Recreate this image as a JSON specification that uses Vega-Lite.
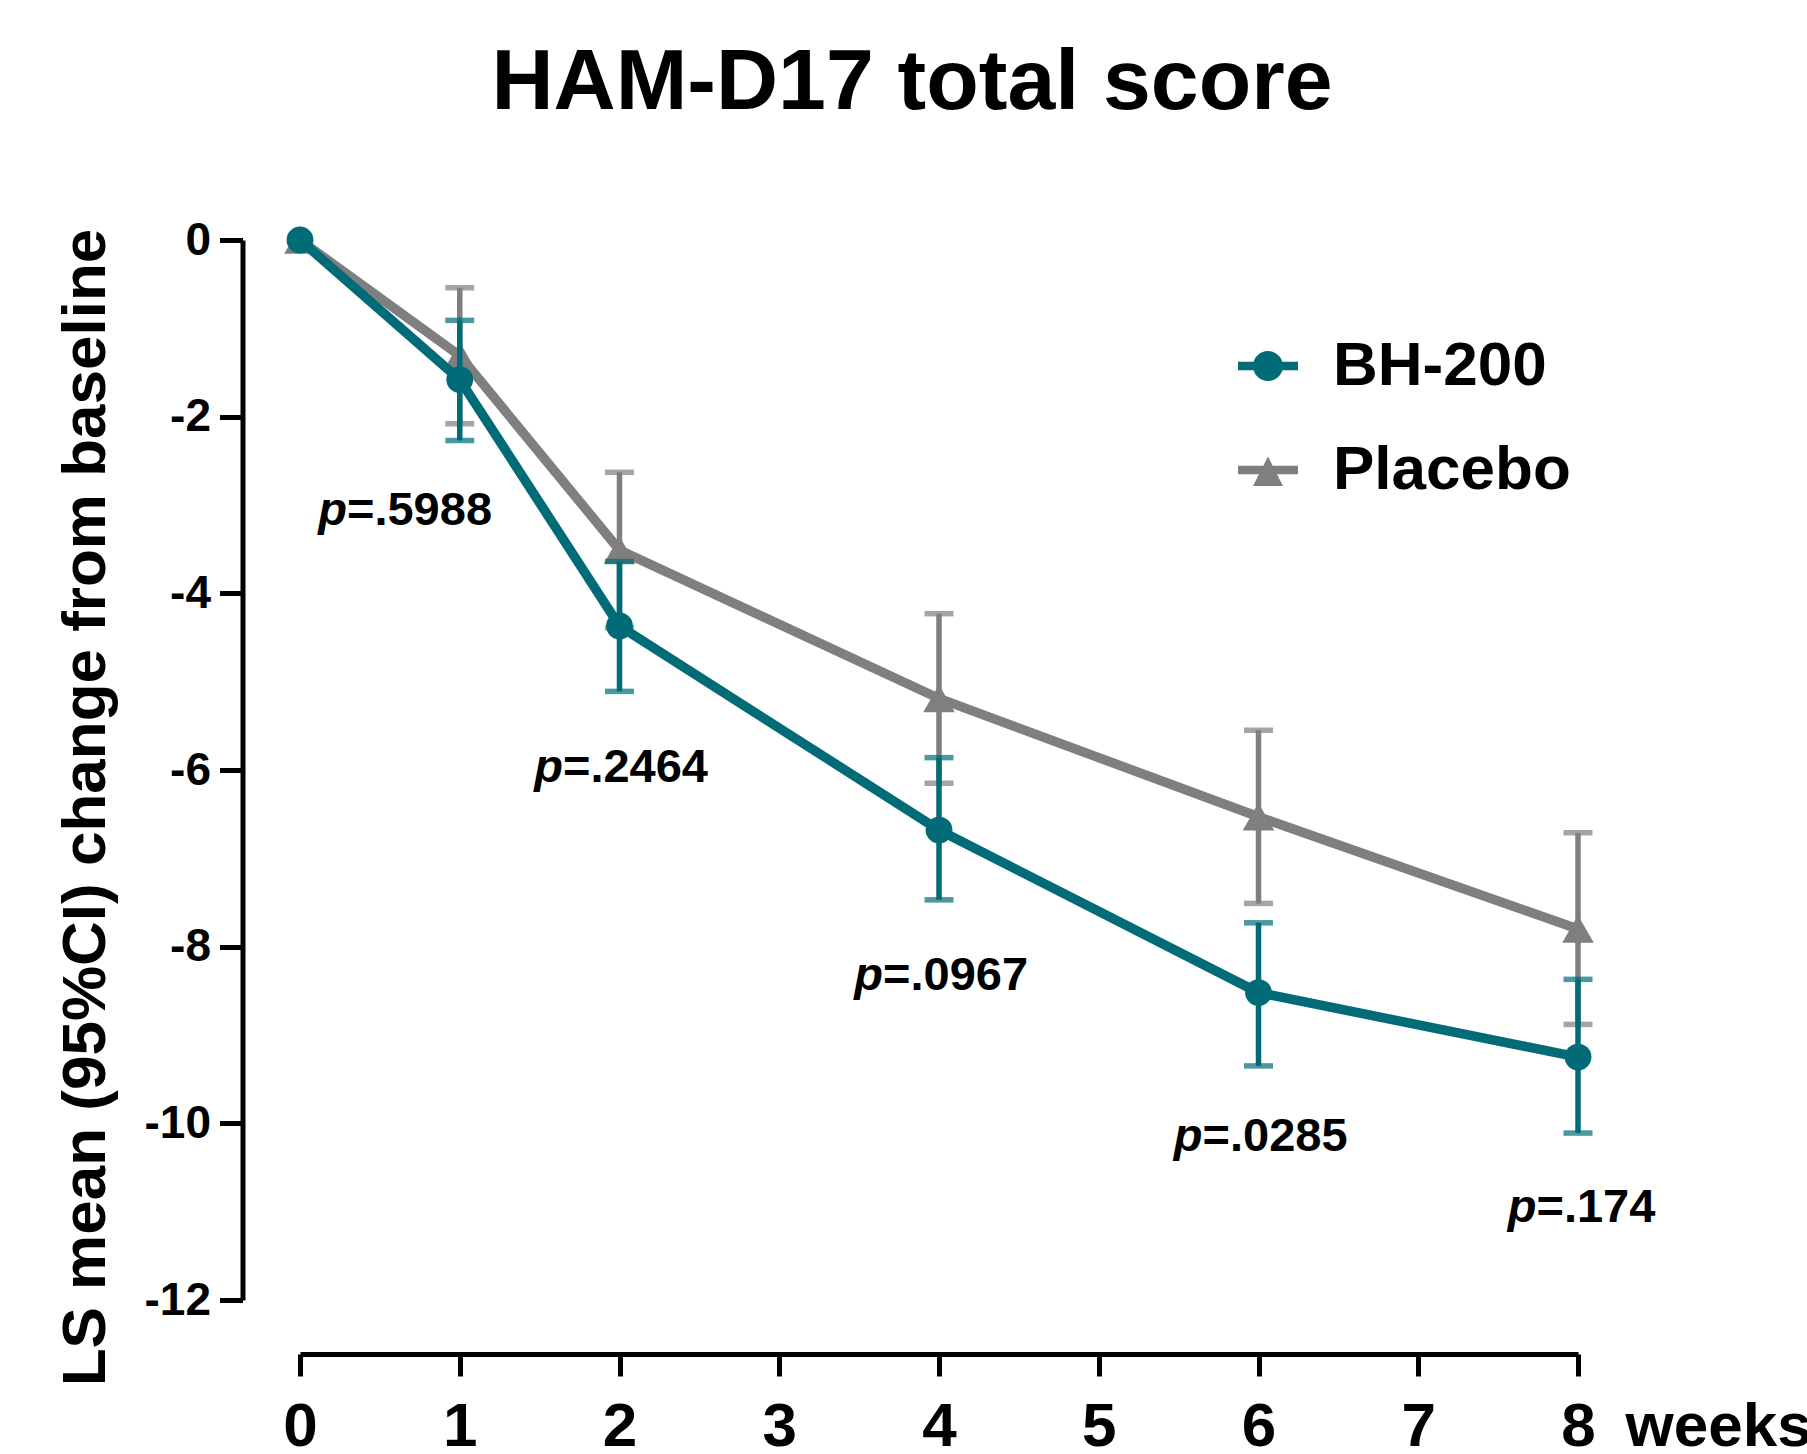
{
  "$schema": "https://vega.github.io/schema/vega-lite/v6.json",
  "width": 1278,
  "height": 1060,
  "autosize": {"type": "none"},
  "padding": {"left": 300, "top": 240, "right": 229, "bottom": 154},
  "background": "white",
  "config": {
    "view": {"stroke": null},
    "font": "Liberation Sans",
    "axis": {"grid": false, "domainColor": "black", "tickColor": "black", "labelColor": "black", "titleColor": "black", "labelFont": "Liberation Sans", "titleFont": "Liberation Sans"}
  },
  "title": {
    "text": "HAM-D17 total score",
    "fontSize": 86,
    "fontWeight": "bold",
    "font": "Liberation Sans",
    "color": "black",
    "anchor": "middle",
    "frame": "group",
    "baseline": "alphabetic",
    "offset": 22,
    "dx": -27
  },
  "datasets": {
    "scores": [
      {"week": 0, "group": "BH-200", "mean": 0, "lo": null, "hi": null},
      {"week": 1, "group": "BH-200", "mean": -1.58, "lo": -2.27, "hi": -0.91},
      {"week": 2, "group": "BH-200", "mean": -4.37, "lo": -5.11, "hi": -3.64},
      {"week": 4, "group": "BH-200", "mean": -6.68, "lo": -7.47, "hi": -5.86},
      {"week": 6, "group": "BH-200", "mean": -8.52, "lo": -9.35, "hi": -7.73},
      {"week": 8, "group": "BH-200", "mean": -9.25, "lo": -10.11, "hi": -8.37},
      {"week": 0, "group": "Placebo", "mean": 0, "lo": null, "hi": null},
      {"week": 1, "group": "Placebo", "mean": -1.31, "lo": -2.08, "hi": -0.54},
      {"week": 2, "group": "Placebo", "mean": -3.51, "lo": -4.39, "hi": -2.63},
      {"week": 4, "group": "Placebo", "mean": -5.19, "lo": -6.15, "hi": -4.23},
      {"week": 6, "group": "Placebo", "mean": -6.53, "lo": -7.51, "hi": -5.55},
      {"week": 8, "group": "Placebo", "mean": -7.8, "lo": -8.88, "hi": -6.71}
    ],
    "pvals": [
      {"x": 0.294, "y": -3.23, "rest": "=.5988"},
      {"x": 1.646, "y": -6.14, "rest": "=.2464"},
      {"x": 3.65, "y": -8.49, "rest": "=.0967"},
      {"x": 5.65, "y": -10.31, "rest": "=.0285"},
      {"x": 7.74, "y": -11.12, "rest": "=.174"}
    ]
  },
  "layer": [
    {
      "data": {"name": "scores"},
      "transform": [{"filter": "datum.group === 'Placebo' && datum.lo != null"}],
      "mark": {"type": "rule", "color": "#7f7f7f", "strokeWidth": 5.5},
      "encoding": {
        "x": {
          "field": "week", "type": "quantitative",
          "scale": {"domain": [0, 8], "nice": false, "zero": false},
          "axis": {
            "title": "weeks",
            "values": [0, 1, 2, 3, 4, 5, 6, 7, 8],
            "offset": 54,
            "tickSize": 22,
            "tickWidth": 5,
            "domainWidth": 5,
            "labelFontSize": 62,
            "labelFontWeight": "bold",
            "labelPadding": 20,
            "labelFlush": false,
            "labelOverlap": false,
            "labelExpr": "'' + datum.value",
            "titleFontSize": 62,
            "titleFontWeight": "bold",
            "titleX": 1325,
            "titleY": 91,
            "titleAlign": "left",
            "titleBaseline": "alphabetic"
          }
        },
        "y": {
          "field": "lo", "type": "quantitative",
          "scale": {"domain": [-12, 0], "nice": false, "zero": false},
          "axis": {
            "title": "LS mean (95%CI) change from baseline",
            "values": [0, -2, -4, -6, -8, -10, -12],
            "offset": 57.5,
            "tickSize": 23,
            "tickWidth": 5,
            "domainWidth": 5,
            "labelFontSize": 46,
            "labelFontWeight": "bold",
            "labelPadding": 9,
            "labelFlush": false,
            "labelOverlap": false,
            "labelExpr": "'' + datum.value",
            "titleFontSize": 62,
            "titleFontWeight": "bold",
            "titleX": -138,
            "titleY": 567,
            "titleAngle": -90,
            "titleAlign": "center",
            "titleBaseline": "alphabetic"
          }
        },
        "y2": {"field": "hi"}
      }
    },
    {
      "data": {"name": "scores"},
      "transform": [
        {"filter": "datum.group === 'Placebo' && datum.lo != null"},
        {"fold": ["lo", "hi"], "as": ["end", "val"]}
      ],
      "mark": {"type": "tick", "orient": "horizontal", "color": "#7f7f7f", "size": 29, "thickness": 5.5},
      "encoding": {
        "x": {"field": "week", "type": "quantitative"},
        "y": {"field": "val", "type": "quantitative"}
      }
    },
    {
      "data": {"name": "scores"},
      "transform": [{"filter": "datum.group === 'Placebo'"}],
      "mark": {"type": "line", "color": "#7f7f7f", "strokeWidth": 9.5},
      "encoding": {
        "x": {"field": "week", "type": "quantitative"},
        "y": {"field": "mean", "type": "quantitative"}
      }
    },
    {
      "data": {"name": "scores"},
      "transform": [{"filter": "datum.group === 'Placebo'"}],
      "mark": {"type": "point", "shape": "triangle-up", "filled": true, "color": "#7f7f7f", "size": 1000, "opacity": 1},
      "encoding": {
        "x": {"field": "week", "type": "quantitative"},
        "y": {"field": "mean", "type": "quantitative"}
      }
    },
    {
      "data": {"name": "scores"},
      "transform": [{"filter": "datum.group === 'BH-200' && datum.lo != null"}],
      "mark": {"type": "rule", "color": "#016c78", "strokeWidth": 5.5},
      "encoding": {
        "x": {"field": "week", "type": "quantitative"},
        "y": {"field": "lo", "type": "quantitative"},
        "y2": {"field": "hi"}
      }
    },
    {
      "data": {"name": "scores"},
      "transform": [
        {"filter": "datum.group === 'BH-200' && datum.lo != null"},
        {"fold": ["lo", "hi"], "as": ["end", "val"]}
      ],
      "mark": {"type": "tick", "orient": "horizontal", "color": "#016c78", "size": 29, "thickness": 5.5},
      "encoding": {
        "x": {"field": "week", "type": "quantitative"},
        "y": {"field": "val", "type": "quantitative"}
      }
    },
    {
      "data": {"name": "scores"},
      "transform": [{"filter": "datum.group === 'BH-200'"}],
      "mark": {"type": "line", "color": "#016c78", "strokeWidth": 9.5},
      "encoding": {
        "x": {"field": "week", "type": "quantitative"},
        "y": {"field": "mean", "type": "quantitative"}
      }
    },
    {
      "data": {"name": "scores"},
      "transform": [{"filter": "datum.group === 'BH-200'"}],
      "mark": {"type": "point", "shape": "circle", "filled": true, "color": "#016c78", "size": 720, "opacity": 1},
      "encoding": {
        "x": {"field": "week", "type": "quantitative"},
        "y": {"field": "mean", "type": "quantitative"}
      }
    },
    {
      "data": {"name": "scores"},
      "transform": [{"filter": "datum.week === 0"}],
      "mark": {"type": "point", "filled": true, "opacity": 0},
      "encoding": {
        "x": {"field": "week", "type": "quantitative"},
        "y": {"field": "mean", "type": "quantitative"},
        "color": {
          "field": "group", "type": "nominal",
          "scale": {"domain": ["BH-200", "Placebo"], "range": ["#016c78", "#7f7f7f"]},
          "legend": {
            "title": null, "orient": "none", "legendX": 937, "legendY": 95,
            "symbolSize": 3600, "symbolOpacity": 1, "symbolStrokeWidth": 0,
            "labelFontSize": 62, "labelFontWeight": "bold", "labelColor": "black", "labelFont": "Liberation Sans",
            "labelOffset": 34, "labelLimit": 600, "rowPadding": 42, "padding": 0
          }
        },
        "shape": {
          "field": "group", "type": "nominal",
          "scale": {"domain": ["BH-200", "Placebo"], "range": [
            "M-1,-0.14H1V0.14H-1Z M-0.5,0 A0.5,0.5 0 1,1 0.5,0 A0.5,0.5 0 1,1 -0.5,0Z",
            "M-1,-0.14H1V0.14H-1Z M0,-0.45 L0.5,0.53 L-0.5,0.53Z"
          ]},
          "legend": {
            "title": null, "orient": "none", "legendX": 937, "legendY": 95,
            "symbolSize": 3600, "symbolOpacity": 1, "symbolStrokeWidth": 0,
            "labelFontSize": 62, "labelFontWeight": "bold", "labelColor": "black", "labelFont": "Liberation Sans",
            "labelOffset": 34, "labelLimit": 600, "rowPadding": 42, "padding": 0
          }
        }
      }
    },
    {
      "data": {"name": "pvals"},
      "mark": {"type": "text", "text": "p", "font": "Liberation Sans", "fontStyle": "italic", "fontWeight": "bold", "fontSize": 47, "align": "right", "baseline": "alphabetic", "color": "black"},
      "encoding": {
        "x": {"field": "x", "type": "quantitative"},
        "y": {"field": "y", "type": "quantitative"}
      }
    },
    {
      "data": {"name": "pvals"},
      "mark": {"type": "text", "font": "Liberation Sans", "fontWeight": "bold", "fontSize": 47, "align": "left", "baseline": "alphabetic", "color": "black"},
      "encoding": {
        "x": {"field": "x", "type": "quantitative"},
        "y": {"field": "y", "type": "quantitative"},
        "text": {"field": "rest", "type": "nominal"}
      }
    }
  ]
}
